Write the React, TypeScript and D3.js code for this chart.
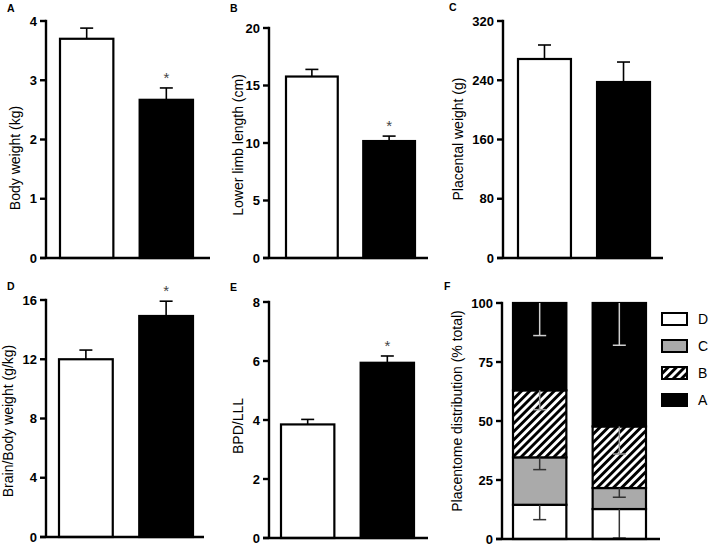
import React from "react";
import * as d3 from "d3";

// ---------- data ----------
const groups = ["Control", "Treated"];

const bodyWeight = [3.7, 2.67];
const bodyWeightErr = [0.18, 0.2];
const bodyWeightTicks = [0, 1, 2, 3, 4];

const lowerLimb = [15.78, 10.17];
const lowerLimbErr = [0.62, 0.43];
const lowerLimbTicks = [0, 5, 10, 15, 20];

const placental = [268.7, 237.6];
const placentalErr = [18.9, 27.0];
const placentalTicks = [0, 80, 160, 240, 320];

const brainBody = [12.0, 14.92];
const brainBodyErr = [0.62, 1.0];
const brainBodyTicks = [0, 4, 8, 12, 16];

const bpdLll = [3.85, 5.94];
const bpdLllErr = [0.17, 0.23];
const bpdLllTicks = [0, 2, 4, 6, 8];

const placentomeTypes = ["D", "C", "B", "A"];
const placentomeControl = [14.5, 20.1, 28.4, 37.0];
const placentomeTreated = [12.7, 8.9, 26.1, 52.3];
const placentomeControlErr = [6.3, 5.2, 8.2, 13.8];
const placentomeTreatedErr = [12.3, 3.9, 11.7, 17.9];
const placentomeTicks = [0, 25, 50, 75, 100];
const legendOrder = ["D", "C", "B", "A"];

const significant = [false, true];
const significantC = [false, false];

// ---------- layout ----------
const FONT = "'Liberation Sans', Arial, Helvetica, sans-serif";
const TICK_FS = 13;
const LABEL_FS = 14;
const LETTER_FS = 10.5;

type Layout = {
  x0: number; x1: number; yTop: number; yBottom: number;
  barL: number; barR: number;
  labelX: number; labelY: number; letterX: number; letterY: number;
};

const layoutA: Layout = { x0: 46, x1: 210, yTop: 21, yBottom: 258, barL: 60, barR: 193, labelX: 15, labelY: 158, letterX: 7, letterY: 12 };
const layoutB: Layout = { x0: 269, x1: 428, yTop: 28, yBottom: 258, barL: 286, barR: 415, labelX: 238, labelY: 145, letterX: 230, letterY: 12 };
const layoutC: Layout = { x0: 503, x1: 663, yTop: 21, yBottom: 258, barL: 518, barR: 650, labelX: 458, labelY: 139, letterX: 449, letterY: 11 };
const layoutD: Layout = { x0: 46, x1: 204, yTop: 300, yBottom: 537, barL: 59, barR: 193, labelX: 8, labelY: 421, letterX: 7, letterY: 290 };
const layoutE: Layout = { x0: 269, x1: 428, yTop: 302, yBottom: 538, barL: 281, barR: 414, labelX: 238, labelY: 426, letterX: 230, letterY: 291 };
const layoutF: Layout = { x0: 502, x1: 660, yTop: 303, yBottom: 539, barL: 513, barR: 646, labelX: 457, labelY: 411, letterX: 444, letterY: 290 };

const AXIS_W = 2.4;
const TICK_LEN = 6;

function Axes({ L, y, ticks, label, letter }: { L: Layout; y: d3.ScaleLinear<number, number>; ticks: number[]; label: string; letter: string }) {
  return (
    <g>
      <text x={L.letterX} y={L.letterY} fontFamily={FONT} fontWeight="bold" fontSize={LETTER_FS}>{letter}</text>
      <line x1={L.x0} x2={L.x0} y1={L.yTop - AXIS_W / 2} y2={L.yBottom} stroke="#000" strokeWidth={AXIS_W} />
      <line x1={L.x0 - TICK_LEN} x2={L.x1} y1={L.yBottom} y2={L.yBottom} stroke="#000" strokeWidth={AXIS_W} />
      {ticks.map((t) => (
        <g key={t}>
          <line x1={L.x0 - TICK_LEN} x2={L.x0} y1={y(t)} y2={y(t)} stroke="#000" strokeWidth={AXIS_W} />
          <text x={L.x0 - TICK_LEN - 3} y={y(t)} dy="0.36em" textAnchor="end" fontFamily={FONT} fontWeight="bold" fontSize={TICK_FS}>{t}</text>
        </g>
      ))}
      <text transform={`translate(${L.labelX},${L.labelY}) rotate(-90)`} textAnchor="middle" dy="0.36em" fontFamily={FONT} fontSize={LABEL_FS}>{label}</text>
    </g>
  );
}

function BarPanel({ L, values, errs, ticks, label, letter, sig }: { L: Layout; values: number[]; errs: number[]; ticks: number[]; label: string; letter: string; sig: boolean[] }) {
  const y = d3.scaleLinear().domain([ticks[0], ticks[ticks.length - 1]]).range([L.yBottom, L.yTop]);
  const x = d3.scaleBand<string>().domain(groups).range([L.barL, L.barR]).paddingInner(0.33).paddingOuter(0);
  const bw = x.bandwidth();
  return (
    <g>
      {groups.map((g, i) => {
        const cx = (x(g) as number) + bw / 2;
        const top = y(values[i]);
        const etop = y(values[i] + errs[i]);
        return (
          <g key={g}>
            <line x1={cx} x2={cx} y1={top} y2={etop} stroke="#000" strokeWidth={1.6} />
            <line x1={cx - 6.5} x2={cx + 6.5} y1={etop} y2={etop} stroke="#000" strokeWidth={1.6} />
            <rect x={x(g)} y={top} width={bw} height={L.yBottom - top} fill={i === 0 ? "#fff" : "#000"} stroke="#000" strokeWidth={2.2} />
            {sig[i] && (
              <text x={cx} y={etop - 13} dy="0.55em" textAnchor="middle" fontFamily={FONT} fontSize={15} fill="#444">*</text>
            )}
          </g>
        );
      })}
      <Axes L={L} y={y} ticks={ticks} label={label} letter={letter} />
    </g>
  );
}

const segFill: Record<string, string> = { D: "#fff", C: "#aaaaaa", B: "url(#hatch)", A: "#000" };
const errColor: Record<string, string> = { D: "#333", C: "#333", B: "#999", A: "#cfcfcf" };

function StackPanel({ L }: { L: Layout }) {
  const ticks = placentomeTicks;
  const y = d3.scaleLinear().domain([0, 100]).range([L.yBottom, L.yTop]);
  const x = d3.scaleBand<string>().domain(groups).range([L.barL, L.barR]).paddingInner(0.33).paddingOuter(0);
  const bw = x.bandwidth();
  const rows = groups.map((g, i) => {
    const vals = i === 0 ? placentomeControl : placentomeTreated;
    const obj: any = { group: g };
    placentomeTypes.forEach((t, j) => (obj[t] = vals[j]));
    return obj;
  });
  const series = d3.stack().keys(placentomeTypes)(rows);
  return (
    <g>
      {series.map((s, j) => (
        <g key={s.key}>
          {s.map((d, i) => {
            const g = groups[i];
            const x0 = x(g) as number;
            const top = y(d[1]);
            const bottom = y(d[0]);
            return (
              <rect key={g} x={x0} y={top} width={bw} height={bottom - top} fill={segFill[s.key]} stroke="#000" strokeWidth={2.2} />
            );
          })}
        </g>
      ))}
      {series.map((s, j) => (
        <g key={"e" + s.key}>
          {s.map((d, i) => {
            const g = groups[i];
            const cx = (x(g) as number) + bw / 2;
            const err = (i === 0 ? placentomeControlErr : placentomeTreatedErr)[j];
            const top = y(d[1]);
            const low = y(d[1] - err);
            return (
              <g key={g}>
                <line x1={cx} x2={cx} y1={top} y2={low} stroke={errColor[s.key]} strokeWidth={1.5} />
                <line x1={cx - 6.5} x2={cx + 6.5} y1={low} y2={low} stroke={errColor[s.key]} strokeWidth={1.5} />
              </g>
            );
          })}
        </g>
      ))}
      <Axes L={L} y={y} ticks={ticks} label="Placentome distribution (% total)" letter="F" />
      {legendOrder.map((k, i) => {
        const ly = 313 + i * 27;
        return (
          <g key={k}>
            <rect x={662} y={ly} width={25} height={12} fill={segFill[k]} stroke="#000" strokeWidth={2} />
            <text x={698} y={ly + 6} dy="0.36em" fontFamily={FONT} fontSize={LABEL_FS}>{k}</text>
          </g>
        );
      })}
    </g>
  );
}

export default function App() {
  return (
    <svg width={709} height={550} style={{ position: "absolute", left: 0, top: 0, background: "#fff" }}>
      <defs>
        <pattern id="hatch" patternUnits="userSpaceOnUse" width={5.8} height={5.8} patternTransform="rotate(45)">
          <rect x={0} y={0} width={5.8} height={5.8} fill="#fff" />
          <rect x={0} y={0} width={2.9} height={5.8} fill="#000" />
        </pattern>
      </defs>
      <rect x={0} y={0} width={709} height={550} fill="#fff" />
      <BarPanel L={layoutA} values={bodyWeight} errs={bodyWeightErr} ticks={bodyWeightTicks} label="Body weight (kg)" letter="A" sig={significant} />
      <BarPanel L={layoutB} values={lowerLimb} errs={lowerLimbErr} ticks={lowerLimbTicks} label="Lower limb length (cm)" letter="B" sig={significant} />
      <BarPanel L={layoutC} values={placental} errs={placentalErr} ticks={placentalTicks} label="Placental weight (g)" letter="C" sig={significantC} />
      <BarPanel L={layoutD} values={brainBody} errs={brainBodyErr} ticks={brainBodyTicks} label="Brain/Body weight (g/kg)" letter="D" sig={significant} />
      <BarPanel L={layoutE} values={bpdLll} errs={bpdLllErr} ticks={bpdLllTicks} label="BPD/LLL" letter="E" sig={significant} />
      <StackPanel L={layoutF} />
    </svg>
  );
}
